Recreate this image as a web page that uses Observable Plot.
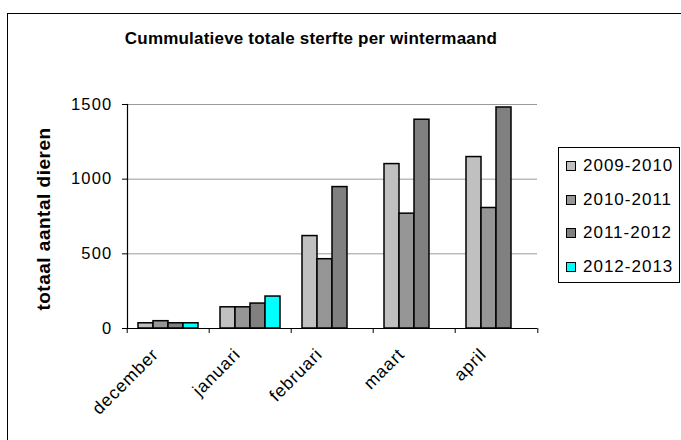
<!DOCTYPE html>
<html>
<head>
<meta charset="utf-8">
<script src="https://cdn.jsdelivr.net/npm/d3@7"></script>
<script src="https://cdn.jsdelivr.net/npm/@observablehq/plot@0.6"></script>
<style>
  html, body { margin: 0; padding: 0; background: #fff; }
  #wrap { position: relative; width: 681px; height: 440px; overflow: hidden; font-family: "Liberation Sans", Arial, sans-serif; }
  #frame { position: absolute; left: 7px; top: 13px; width: 720px; height: 500px; border: 1.5px solid #000; box-sizing: border-box; }
  #title { position: absolute; left: 0; width: 622px; top: 30px; text-align: center; font-weight: bold; font-size: 17px; line-height: 17px; letter-spacing: 0.2px; color: #000; }
  #ylabel { position: absolute; left: 43px; top: 219px; transform: translate(-50%, -50%) rotate(-90deg); white-space: nowrap; font-weight: bold; font-size: 19px; line-height: 19px; letter-spacing: 0.5px; color: #000; }
  #legend { position: absolute; left: 558px; top: 147px; width: 122px; height: 136px; border: 1px solid #000; box-sizing: border-box; background: #fff; }
  .item { position: absolute; left: 7px; display: flex; align-items: center; font-size: 17px; letter-spacing: 1px; line-height: 20px; color: #000; }
  .sw { width: 8px; height: 8px; border: 1px solid #000; margin-right: 7px; }
  #chart svg g[aria-label="y-axis tick label"] text { letter-spacing: 1.2px; }
  #chart svg g[aria-label="fx-axis tick label"] text { letter-spacing: 0.9px; }
</style>
</head>
<body>
<div id="wrap">
  <div id="frame"></div>
  <div id="chart"></div>
  <div id="title">Cummulatieve totale sterfte per wintermaand</div>
  <div id="ylabel">totaal aantal dieren</div>
  <div id="legend"></div>
</div>
<script>
const months = ["december", "januari", "februari", "maart", "april"];
const series = ["2009-2010", "2010-2011", "2011-2012", "2012-2013"];
const values0910 = [35, 142, 619, 1101, 1148];
const values1011 = [49, 142, 464, 769, 807];
const values1112 = [35, 167, 947, 1398, 1480];
const values1213 = [35, 214, null, null, null];
const colors = ["#C0C0C0", "#969696", "#808080", "#00FFFF"];
const yTicks = [0, 500, 1000, 1500];

const allValues = [values0910, values1011, values1112, values1213];
const data = [];
months.forEach((m, i) => {
  series.forEach((s, j) => {
    const v = allValues[j][i];
    if (v != null) data.push({month: m, series: s, value: v});
  });
});

const W = 681, H = 440;
const mL = 125, mR = 143, mT = 104, mB = 112;
const band = (W - mL - mR) / months.length;

const chart = Plot.plot({
  width: W,
  height: H,
  marginLeft: mL,
  marginRight: mR,
  marginTop: mT,
  marginBottom: mB,
  style: {fontFamily: "'Liberation Sans', Arial, sans-serif", background: "transparent", color: "#000"},
  fx: {domain: months, padding: 0, label: null},
  x: {domain: series, paddingInner: 0, paddingOuter: 0.7, axis: null},
  y: {domain: [0, 1500], axis: null},
  color: {domain: series, range: colors},
  marks: [
    Plot.gridY(yTicks.filter(d => d > 0), {stroke: "#9a9a9a", strokeOpacity: 1, strokeWidth: 1}),
    Plot.barY(data, {fx: "month", x: "series", y: "value", fill: "series", stroke: "#000", strokeWidth: 1.5}),
    Plot.ruleY([0], {stroke: "#000", strokeWidth: 1.2}),
    Plot.frame({anchor: "left", facet: "super", stroke: "#000", strokeWidth: 1.2}),
    Plot.axisY({ticks: yTicks, tickSize: 5, tickPadding: 10, tickFormat: d3.format("d"), fontSize: 16.5, label: null, stroke: "#000"}),
    Plot.axisFx({anchor: "bottom", tickSize: 0, tickRotate: -45, tickPadding: 23, dx: -13, fontSize: 17.5, label: null}),
    Plot.axisFx({anchor: "bottom", text: null, tickSize: 5, dx: -band / 2, label: null, stroke: "#000"}),
    Plot.axisFx({anchor: "bottom", ticks: months.slice(-1), text: null, tickSize: 5, dx: band / 2, label: null, stroke: "#000"})
  ]
});
document.getElementById("chart").appendChild(chart);

const legend = document.getElementById("legend");
series.forEach((s, j) => {
  const it = document.createElement("div");
  it.className = "item";
  it.style.top = (8 + j * 33.7) + "px";
  const sw = document.createElement("div");
  sw.className = "sw";
  sw.style.background = colors[j];
  const tx = document.createElement("span");
  tx.textContent = s;
  it.appendChild(sw);
  it.appendChild(tx);
  legend.appendChild(it);
});
</script>
</body>
</html>
